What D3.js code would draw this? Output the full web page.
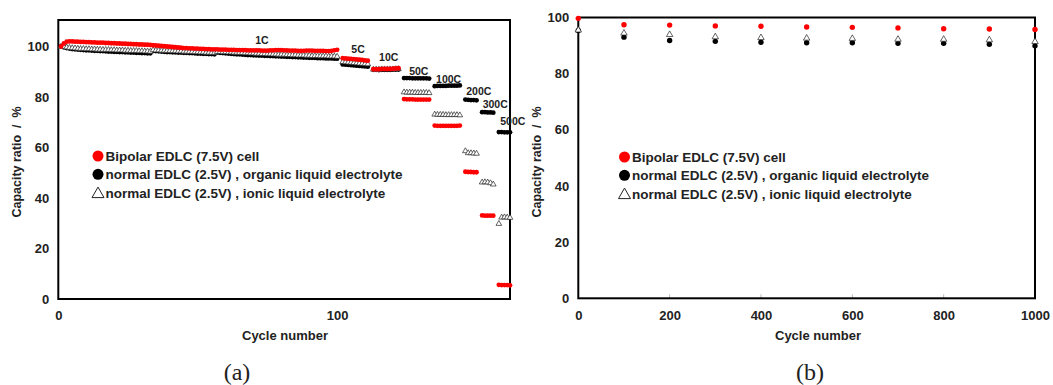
<!DOCTYPE html>
<html lang="en">
<head>
<meta charset="UTF-8">
<title>EDLC capacity ratio</title>
<script src="https://d3js.org/d3.v7.min.js"></script>
<style>
  body { margin: 0; background: #fff; }
  text { font-family: "Liberation Sans", Arial, sans-serif; fill: #222; }
</style>
</head>
<body>
<script>
// ---- panel (a): rate capability, one block of cycles per C-rate ----
const rateLabels = ["1C", "5C", "10C", "50C", "100C", "200C", "300C", "500C"];
const rateFirstCycle = [1, 102, 113, 124, 135, 146, 152, 158];
// where each rate label sits, in (cycle, capacity) units
const rateLabelAt = [[73, 100.8], [107.5, 97.3], [118.5, 94.1], [129.3, 88.8],
                     [140, 85.4], [150.8, 80.9], [156.7, 75.5], [163, 68.8]];

const bipolarA = [
  [100.0, 101.2, 101.9, 102.0, 102.0, 101.9, 101.9, 101.8, 101.8, 101.7,
   101.7, 101.6, 101.6, 101.5, 101.5, 101.5, 101.4, 101.4, 101.3, 101.3,
   101.2, 101.2, 101.1, 101.1, 101.0, 101.0, 100.9, 100.9, 100.8, 100.8,
   100.7, 100.7, 100.6, 100.5, 100.4, 100.3, 100.2, 100.1, 100.0, 99.9,
   99.8, 99.7, 99.6, 99.5, 99.4, 99.4, 99.3, 99.3, 99.2, 99.2,
   99.1, 99.1, 99.0, 99.0, 98.9, 98.9, 98.9, 98.8, 98.8, 98.8,
   98.7, 98.7, 98.7, 98.6, 98.6, 98.6, 98.6, 98.5, 98.5, 98.5,
   98.5, 98.5, 98.4, 98.4, 98.4, 98.5, 98.5, 98.6, 98.6, 98.6,
   98.5, 98.5, 98.4, 98.4, 98.4, 98.3, 98.3, 98.3, 98.4, 98.4,
   98.4, 98.3, 98.3, 98.3, 98.3, 98.2, 98.2, 98.3, 98.5, 98.7],
  [95.4, 95.3, 95.2, 95.1, 95.0, 94.9, 94.8, 94.7, 94.5, 94.4],
  [91.0, 91.0, 91.0, 91.1, 91.1, 91.1, 91.1, 91.2, 91.3, 91.4],
  [79.2, 79.1, 79.1, 79.1, 79.0, 79.0, 79.0, 79.0, 79.0, 79.0],
  [68.7, 68.6, 68.6, 68.6, 68.6, 68.6, 68.6, 68.6, 68.6, 68.7],
  [50.4, 50.3, 50.3, 50.2, 50.2],
  [33.1, 33.0, 33.0, 33.0, 33.0],
  [5.6, 5.5, 5.5, 5.5, 5.4]
];

const organicA = [
  [100.0, 99.7, 99.4, 99.2, 99.0, 98.9, 98.8, 98.7, 98.6, 98.5,
   98.5, 98.4, 98.3, 98.3, 98.2, 98.2, 98.1, 98.0, 98.0, 97.9,
   97.9, 97.8, 97.8, 97.7, 97.7, 97.6, 97.6, 97.5, 97.5, 97.4,
   97.4, 97.3, 97.3, 98.3, 98.2, 98.1, 98.0, 97.9, 97.8, 97.8,
   97.7, 97.7, 97.6, 97.6, 97.5, 97.5, 97.4, 97.4, 97.3, 97.2,
   97.2, 97.1, 97.1, 97.0, 97.0, 96.9, 97.6, 97.5, 97.4, 97.3,
   97.2, 97.1, 97.0, 96.9, 96.9, 96.8, 96.7, 96.6, 96.6, 96.5,
   96.5, 96.4, 96.4, 96.3, 96.3, 96.2, 96.2, 96.1, 96.1, 96.0,
   96.0, 95.9, 95.9, 95.8, 95.8, 95.7, 95.7, 95.6, 95.6, 95.5,
   95.5, 95.5, 95.4, 95.4, 95.4, 95.3, 95.3, 95.3, 95.2, 95.2],
  [92.9, 92.8, 92.7, 92.6, 92.5, 92.4, 92.3, 92.2, 92.1, 92.0],
  [90.8, 90.8, 90.7, 90.8, 90.8, 90.8, 90.8, 90.9, 90.9, 90.9],
  [87.5, 87.5, 87.5, 87.4, 87.4, 87.4, 87.4, 87.4, 87.4, 87.3],
  [84.3, 84.4, 84.4, 84.4, 84.4, 84.5, 84.5, 84.5, 84.5, 84.6],
  [79.0, 78.9, 78.8, 78.8, 78.7],
  [74.0, 74.0, 73.9, 73.9, 73.8],
  [66.1, 66.1, 66.0, 66.0, 66.0]
];

const ionicA = [
  [100.0, 99.9, 99.7, 99.5, 99.4, 99.3, 99.2, 99.1, 99.1, 99.0,
   99.0, 98.9, 98.9, 98.8, 98.8, 98.7, 98.7, 98.7, 98.6, 98.6,
   98.5, 98.5, 98.5, 98.4, 98.4, 98.3, 98.3, 98.3, 98.2, 98.2,
   98.1, 98.1, 98.0, 98.6, 98.5, 98.5, 98.4, 98.4, 98.3, 98.3,
   98.2, 98.2, 98.1, 98.1, 98.0, 98.0, 97.9, 97.9, 97.8, 97.8,
   97.7, 97.7, 97.6, 97.6, 97.5, 97.5, 97.9, 97.9, 97.8, 97.8,
   97.7, 97.7, 97.6, 97.6, 97.5, 97.5, 97.4, 97.4, 97.3, 97.3,
   97.2, 97.2, 97.1, 97.1, 97.0, 97.0, 96.9, 96.9, 96.8, 96.8,
   96.8, 96.7, 96.7, 96.6, 96.6, 96.5, 96.5, 96.5, 96.4, 96.4,
   96.3, 96.3, 96.3, 96.2, 96.2, 96.2, 96.1, 96.1, 96.1, 96.0],
  [93.9, 93.8, 93.7, 93.6, 93.5, 93.4, 93.3, 93.2, 93.1, 93.0],
  [90.9, 90.9, 90.9, 91.0, 91.0, 91.0, 91.0, 91.0, 91.1, 91.1],
  [81.9, 81.8, 81.8, 81.8, 81.7, 81.7, 81.7, 81.7, 81.7, 81.6],
  [73.1, 73.0, 73.0, 73.0, 72.9, 72.9, 72.9, 72.9, 72.9, 72.8],
  [58.6, 57.8, 57.8, 57.7, 57.6],
  [46.2, 46.3, 46.2, 45.9, 45.4],
  [29.8, 32.3, 32.4, 32.3, 32.2]
];

// ---- panel (b): long cycling at fixed rate ----
const cyclesB = [0, 100, 200, 300, 400, 500, 600, 700, 800, 900, 1000];
const bipolarB = [99.7, 97.4, 97.3, 97.0, 96.9, 96.6, 96.5, 96.3, 96.0, 95.9, 95.7];
const organicB = [95.4, 93.0, 91.8, 91.5, 91.2, 91.0, 91.0, 90.8, 90.8, 90.5, 89.9];
const ionicB = [95.5, 94.4, 93.9, 93.1, 92.8, 92.6, 92.5, 92.2, 92.2, 92.0, 91.4];

const legendNames = ["Bipolar EDLC (7.5V) cell",
                     "normal EDLC (2.5V) , organic liquid electrolyte",
                     "normal EDLC (2.5V) , ionic liquid electrolyte"];
const ticksA_x = [0, 100];
const ticksB_x = [0, 200, 400, 600, 800, 1000];
const ticks_y = [0, 20, 40, 60, 80, 100];

const W = 1053, H = 385;
const svg = d3.select("body").append("svg").attr("width", W).attr("height", H);

// flatten block arrays into {c, v}
function blocks(series) {
  const out = [];
  series.forEach((blk, i) => blk.forEach((v, j) => out.push({c: rateFirstCycle[i] + j, v: v})));
  return out;
}

function panel(opt) {
  const x = d3.scaleLinear().domain(opt.xDomain).range([opt.left, opt.right]);
  const y = d3.scaleLinear().domain(opt.yDomain).range([opt.bottom, opt.top]);
  const g = svg.append("g");

  g.append("g").attr("transform", `translate(0,${opt.bottom})`)
    .call(d3.axisBottom(x).tickValues(opt.xTicks).tickSize(0).tickPadding(12).tickFormat(d3.format("d")))
    .call(a => a.select(".domain").remove())
    .call(a => a.selectAll("text").attr("font-size", 13).attr("font-weight", "bold")
      .attr("fill", "#222").attr("font-family", '"Liberation Sans", Arial, sans-serif'));
  // small inside tick marks
  g.append("g").selectAll("line").data(opt.xTicks.slice(1, -1)).join("line")
    .attr("x1", d => x(d)).attr("x2", d => x(d))
    .attr("y1", opt.bottom - 4).attr("y2", opt.bottom)
    .attr("stroke", "#bbb").attr("stroke-width", 1);

  g.append("g").attr("transform", `translate(${opt.left},0)`)
    .call(d3.axisLeft(y).tickValues(ticks_y).tickSize(0).tickPadding(9))
    .call(a => a.select(".domain").remove())
    .call(a => a.selectAll("text").attr("font-size", 13).attr("font-weight", "bold")
      .attr("fill", "#222").attr("font-family", '"Liberation Sans", Arial, sans-serif'));

  // frame
  g.append("rect").attr("x", opt.left).attr("y", opt.top)
    .attr("width", opt.right - opt.left).attr("height", opt.bottom - opt.top)
    .attr("fill", "none").attr("stroke", "#000").attr("stroke-width", 2);

  const pts = g.append("g");
  pts.selectAll("circle.org").data(opt.organic).join("circle")
    .attr("cx", d => x(d.c)).attr("cy", d => y(d.v)).attr("r", opt.r).attr("fill", "#000");
  pts.selectAll("path.ion").data(opt.ionic).join("path")
    .attr("d", d3.symbol(d3.symbolTriangle, opt.tri))
    .attr("transform", d => `translate(${x(d.c)},${y(d.v)})`)
    .attr("fill", "#fff").attr("stroke", "#222").attr("stroke-width", 0.7);
  pts.selectAll("circle.bip").data(opt.bipolar).join("circle")
    .attr("cx", d => x(d.c)).attr("cy", d => y(d.v)).attr("r", opt.r).attr("fill", "#ff0000");

  // legend
  const lg = g.append("g").attr("transform", `translate(${opt.legX},${opt.legY})`);
  legendNames.forEach((name, i) => {
    const row = lg.append("g").attr("transform", `translate(0,${i * 18.3})`);
    if (i === 0) row.append("circle").attr("r", 5.5).attr("fill", "#ff0000");
    if (i === 1) row.append("circle").attr("r", 5.5).attr("fill", "#000");
    if (i === 2) row.append("path").attr("d", "M0,-5.5L6,5L-6,5Z")
      .attr("fill", "none").attr("stroke", "#222").attr("stroke-width", 1);
    row.append("text").attr("x", 7.5).attr("y", 5).attr("font-size", 13.5).attr("font-weight", "bold")
      .text(name);
  });

  // axis titles
  g.append("text").attr("x", opt.xTitleX).attr("y", 340).attr("text-anchor", "middle")
    .attr("font-size", 13).attr("font-weight", "bold").text("Cycle number");
  g.append("text").attr("transform", `translate(${opt.yTitleX},162) rotate(-90)`)
    .attr("text-anchor", "middle").attr("font-size", 12.5).attr("font-weight", "bold")
    .style("white-space", "pre").text("Capacity ratio  /  %");

  g.append("text").attr("x", opt.capX).attr("y", 380).attr("text-anchor", "middle")
    .attr("font-size", 24).style("font-family", '"Liberation Serif", "DejaVu Serif", serif')
    .text(opt.caption);
  return {g, x, y};
}

const A = panel({
  left: 58.3, right: 510, top: 20, bottom: 299,
  xDomain: [0, 162], yDomain: [0, 110.5], xTicks: ticksA_x,
  bipolar: blocks(bipolarA), organic: blocks(organicA), ionic: blocks(ionicA),
  r: 2.4, tri: 14, legX: 98, legY: 156, xTitleX: 285, yTitleX: 21, capX: 237, caption: "(a)"
});

A.g.append("g").selectAll("text").data(rateLabels).join("text")
  .attr("x", (d, i) => A.x(rateLabelAt[i][0])).attr("y", (d, i) => A.y(rateLabelAt[i][1]))
  .attr("text-anchor", "middle").attr("font-size", 10.5).attr("font-weight", "bold")
  .attr("fill", "#333").text(d => d);

const toPts = vals => vals.map((v, i) => ({c: cyclesB[i], v: v}));
panel({
  left: 578.3, right: 1035, top: 17.5, bottom: 298.3,
  xDomain: [0, 1000], yDomain: [0, 100], xTicks: ticksB_x,
  bipolar: toPts(bipolarB), organic: toPts(organicB), ionic: toPts(ionicB),
  r: 2.7, tri: 18, legX: 624.5, legY: 157, xTitleX: 818, yTitleX: 541, capX: 810, caption: "(b)"
});
</script>
</body>
</html>
